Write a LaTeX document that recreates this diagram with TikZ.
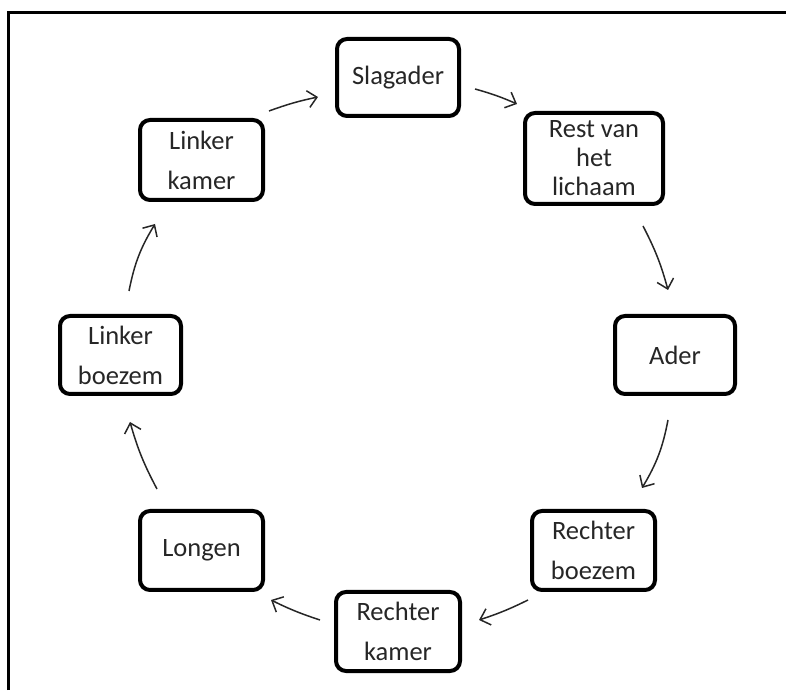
\documentclass[tikz,border=0pt]{standalone}
\usepackage{fontspec}
\setmainfont{Carlito}
\usetikzlibrary{arrows.meta}
\begin{document}
\begin{tikzpicture}[x=1pt,y=1pt,
  box/.style={draw, line width=4pt, rounded corners=10pt, inner sep=0pt, align=center,
    text=black!85, font=\fontsize{26.5}{40}\selectfont},
  flow/.style={-{Straight Barb[length=9pt,width=17pt,line width=1.5pt]}, line width=1.5pt, black!85},
  frame/.style={line width=3.2pt}]
\useasboundingbox (0,0) rectangle (786,690);
\draw[frame] (8.3,0) -- (8.3,677.7) -- (786,677.7);

\node[box, minimum width=122pt, minimum height=77pt] (sl) at (398,612.5) {Slagader};
\node[box, minimum width=138pt, minimum height=91pt, font=\fontsize{26.5}{29}\selectfont] (rest) at (594,531.5) {Rest van\\het\\lichaam};
\node[box, minimum width=120pt, minimum height=78pt] (ader) at (675,335) {Ader};
\node[box, minimum width=123pt, minimum height=79pt] (rb) at (593.5,139.5) {Rechter\\boezem};
\node[box, minimum width=124pt, minimum height=79pt] (rk) at (398,58.5) {Rechter\\kamer};
\node[box, minimum width=123pt, minimum height=79pt] (lo) at (201.5,139.5) {Longen};
\node[box, minimum width=121pt, minimum height=78pt] (lb) at (120.5,335) {Linker\\boezem};
\node[box, minimum width=123pt, minimum height=80pt] (lk) at (201.5,530) {Linker\\kamer};

\draw[flow] ([shift={(4,7)}]lk.north east) to[bend left=4] ([shift={(-17,-19.5)}]sl.west);
\draw[flow] ([shift={(14,-11.5)}]sl.east) to[bend left=4] ([shift={(-6,7)}]rest.north west);
\draw[flow] ([shift={(-22,-20)}]rest.south east) to[bend left=6] ([shift={(-7,24)}]ader.north);
\draw[flow] ([shift={(-7,-24)}]ader.south) to[bend left=10] ([shift={(-15,21)}]rb.north east);
\draw[flow] ([shift={(-2,-8)}]rb.south west) to[bend left=4] ([shift={(17,11.5)}]rk.east);
\draw[flow] ([shift={(-14,11.5)}]rk.west) to[bend left=4] ([shift={(6,-8)}]lo.south east);
\draw[flow] ([shift={(19,20)}]lo.north west) to[bend left=6] ([shift={(9.5,-26)}]lb.south);
\draw[flow] ([shift={(8.5,23)}]lb.north) to[bend left=10] ([shift={(17,-22)}]lk.south west);
\end{tikzpicture}
\end{document}
